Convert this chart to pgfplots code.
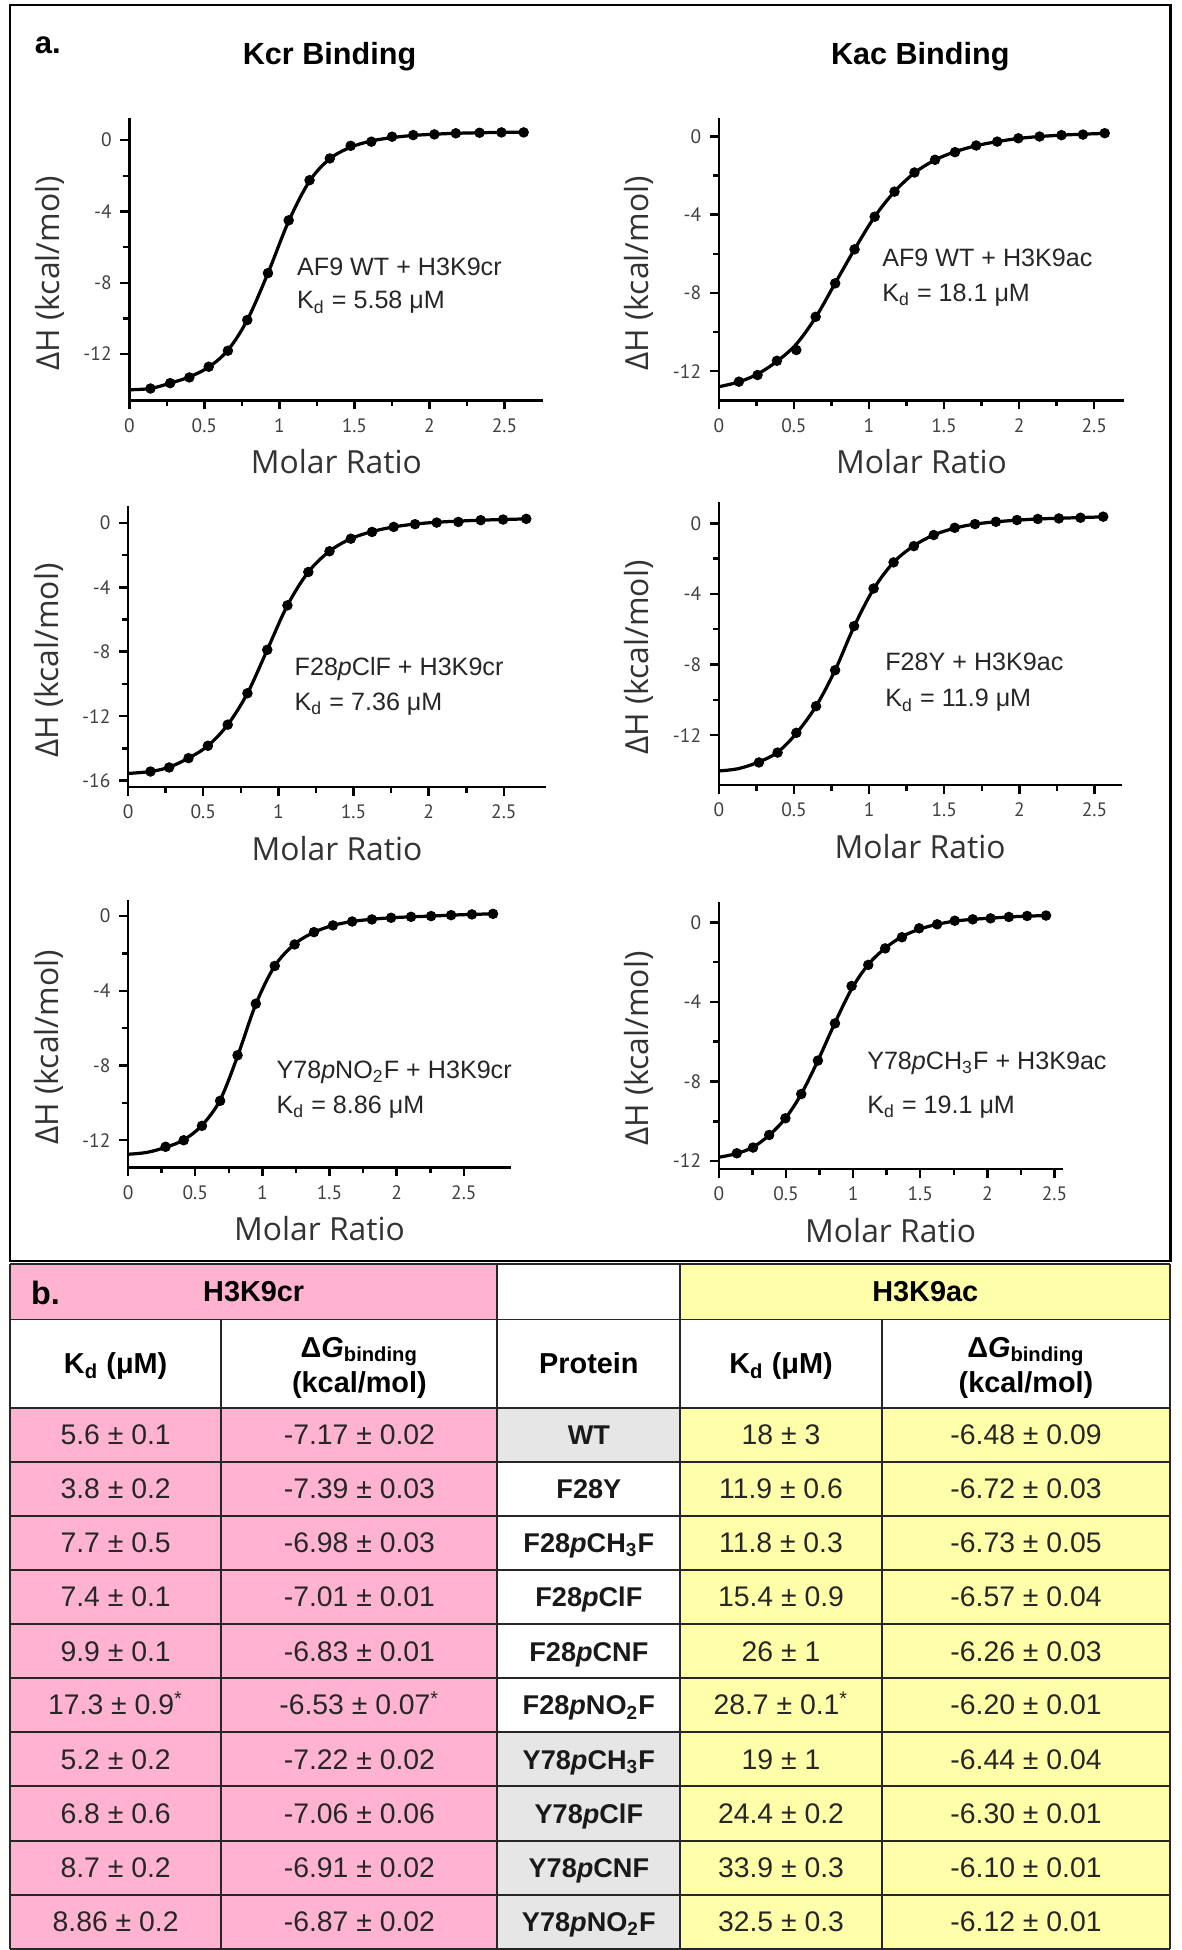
\documentclass[border=0pt]{standalone}
\usepackage{fontspec}
\setmainfont{Liberation Sans}
\newfontfamily\labfont{Open Sans}
\newfontfamily\tickfont{PT Sans}
\usepackage{pgfplots}
\pgfplotsset{compat=1.18}
\definecolor{pinkc}{HTML}{FFB3D1}
\definecolor{yellowc}{HTML}{FFFFAA}
\definecolor{grayc}{HTML}{E6E6E6}

\pgfplotsset{itc/.style={
  scale only axis, axis lines=left,
  axis line style={-, line width=1pt, black},
  tick align=outside, major tick length=3.6pt, minor tick length=2.4pt,
  every tick/.style={black, line width=1pt},
  xmin=0, xtick={0,0.5,1,1.5,2,2.5}, minor x tick num=1,
  minor y tick num=1,
  /pgf/number format/assume math mode=true,
  ticklabel style={font=\tickfont\fontsize{7.8}{8.5}\selectfont, text=black!75},
  xlabel={Molar Ratio}, ylabel={ΔH (kcal/mol)},
  label style={font=\labfont\fontsize{12.8}{14}\selectfont, text=black!80},
  xlabel style={at={([yshift=-29.5pt]axis description cs:0.5,0)}, anchor=base},
  ylabel style={at={([xshift=-32pt]axis description cs:0,0.45)}, anchor=center},
  clip=false,
}}
\pgfplotsset{fitline/.style={black, line width=1.3pt, smooth, tension=0.55, mark=none},
  pts/.style={only marks, mark=*, mark size=1.9pt, mark options={fill=black, draw=black}}}
\newcommand{\af}{\fontsize{10.1}{12}\selectfont}

\pgfplotstableread{
x y
0.141 -13.93
0.272 -13.63
0.400 -13.31
0.529 -12.71
0.657 -11.81
0.786 -10.09
0.924 -7.46
1.062 -4.50
1.201 -2.25
1.336 -1.03
1.475 -0.32
1.613 -0.09
1.751 0.19
1.892 0.28
2.033 0.32
2.176 0.38
2.334 0.41
2.480 0.43
2.628 0.43
}\pA
\pgfplotstableread{
x y
0 -14.00
0.141 -13.93
0.272 -13.63
0.400 -13.28
0.529 -12.73
0.657 -11.78
0.786 -10.09
0.924 -7.46
1.062 -4.55
1.201 -2.30
1.336 -1.05
1.475 -0.40
1.613 -0.05
1.751 0.14
1.892 0.26
2.033 0.33
2.176 0.38
2.334 0.41
2.480 0.43
2.628 0.44
}\fA
\pgfplotstableread{
x y
0.134 -12.54
0.258 -12.20
0.387 -11.47
0.516 -10.92
0.645 -9.22
0.775 -7.51
0.904 -5.77
1.038 -4.10
1.170 -2.82
1.303 -1.84
1.440 -1.19
1.573 -0.80
1.714 -0.46
1.854 -0.26
1.995 -0.09
2.136 0.00
2.282 0.07
2.425 0.10
2.570 0.17
}\pB
\pgfplotstableread{
x y
0 -12.80
0.134 -12.55
0.258 -12.15
0.387 -11.50
0.516 -10.62
0.645 -9.25
0.775 -7.50
0.904 -5.77
1.038 -4.10
1.170 -2.82
1.303 -1.86
1.440 -1.20
1.573 -0.78
1.714 -0.47
1.854 -0.26
1.995 -0.10
2.136 0.00
2.282 0.07
2.425 0.12
2.570 0.16
}\fB
\pgfplotstableread{
x y
0.149 -15.44
0.273 -15.19
0.402 -14.61
0.531 -13.84
0.663 -12.53
0.794 -10.58
0.926 -7.88
1.060 -5.12
1.199 -3.05
1.340 -1.76
1.482 -0.98
1.623 -0.56
1.767 -0.25
1.909 -0.08
2.053 0.02
2.197 0.06
2.346 0.17
2.495 0.21
2.649 0.25
}\pC
\pgfplotstableread{
x y
0 -15.56
0.149 -15.44
0.273 -15.17
0.402 -14.61
0.531 -13.84
0.663 -12.53
0.794 -10.58
0.926 -7.88
1.060 -5.12
1.199 -3.05
1.340 -1.76
1.482 -0.98
1.623 -0.54
1.767 -0.25
1.909 -0.07
2.053 0.04
2.197 0.11
2.346 0.17
2.495 0.21
2.649 0.25
}\fC
\pgfplotstableread{
x y
0.267 -13.55
0.391 -12.99
0.516 -11.87
0.647 -10.36
0.774 -8.32
0.900 -5.82
1.030 -3.69
1.163 -2.21
1.298 -1.29
1.430 -0.66
1.570 -0.25
1.705 -0.04
1.844 0.09
1.984 0.19
2.123 0.25
2.263 0.28
2.407 0.32
2.558 0.38
}\pD
\pgfplotstableread{
x y
0 -14.03
0.130 -13.90
0.267 -13.52
0.391 -12.97
0.516 -11.90
0.647 -10.36
0.774 -8.32
0.900 -5.85
1.030 -3.72
1.163 -2.21
1.298 -1.27
1.430 -0.66
1.570 -0.27
1.705 -0.04
1.844 0.09
1.984 0.18
2.123 0.25
2.263 0.29
2.407 0.33
2.558 0.37
}\fD
\pgfplotstableread{
x y
0.279 -12.35
0.414 -12.00
0.550 -11.23
0.685 -9.89
0.815 -7.45
0.951 -4.69
1.092 -2.67
1.240 -1.52
1.384 -0.86
1.525 -0.50
1.668 -0.29
1.815 -0.18
1.958 -0.09
2.107 -0.04
2.256 0.00
2.405 0.05
2.560 0.09
2.717 0.12
}\pE
\pgfplotstableread{
x y
0 -12.75
0.140 -12.65
0.279 -12.38
0.414 -11.98
0.550 -11.20
0.685 -9.85
0.815 -7.50
0.951 -4.72
1.092 -2.67
1.240 -1.50
1.384 -0.87
1.525 -0.50
1.668 -0.29
1.815 -0.17
1.958 -0.09
2.107 -0.04
2.256 0.00
2.405 0.05
2.560 0.09
2.717 0.12
}\fE
\pgfplotstableread{
x y
0.134 -11.61
0.255 -11.32
0.375 -10.69
0.496 -9.85
0.614 -8.63
0.738 -6.95
0.865 -5.08
0.989 -3.20
1.113 -2.14
1.239 -1.31
1.364 -0.75
1.492 -0.30
1.626 -0.10
1.757 0.08
1.891 0.15
2.024 0.20
2.160 0.27
2.296 0.32
2.437 0.34
}\pF
\pgfplotstableread{
x y
0 -11.81
0.134 -11.62
0.255 -11.30
0.375 -10.70
0.496 -9.85
0.614 -8.63
0.738 -6.95
0.865 -5.05
0.989 -3.35
1.113 -2.12
1.239 -1.30
1.364 -0.72
1.492 -0.35
1.626 -0.10
1.757 0.06
1.891 0.15
2.024 0.21
2.160 0.27
2.296 0.31
2.437 0.34
}\fF

\newcommand{\tb}{\fontsize{11.4}{13}\selectfont}
\newcommand{\tp}{\fontsize{10.9}{13}\selectfont\bfseries}
\newcommand{\thd}{\fontsize{11.6}{13}\selectfont\bfseries}
\newcommand{\trow}[6]{%
  \node[anchor=base, font=\tb, text=black!85] at (46.5pt,-#1pt) {#2};
  \node[anchor=base, font=\tb, text=black!85] at (144.5pt,-#1pt) {#3};
  \node[anchor=base, font=\tp, text=black!90] at (236.75pt,-#1pt) {#4};
  \node[anchor=base, font=\tb, text=black!85] at (314pt,-#1pt) {#5};
  \node[anchor=base, font=\tb, text=black!85] at (412.5pt,-#1pt) {#6};}

\begin{document}
\begin{tikzpicture}
\useasboundingbox (0,0) rectangle (475pt,-784pt);
% panel a frame
\draw[line width=1pt] (4pt,-2pt) rectangle (470.5pt,-507pt);
\node[anchor=base west, font=\fontsize{12.5}{14}\selectfont\bfseries] at (10.5pt,-21.5pt) {a.};
\node[anchor=base, font=\fontsize{12.3}{14}\selectfont\bfseries] at (132.5pt,-26pt) {Kcr Binding};
\node[anchor=base, font=\fontsize{12.3}{14}\selectfont\bfseries] at (370pt,-26pt) {Kac Binding};

% plot 1
\begin{axis}[itc, at={(52pt,-161pt)}, anchor=south west, width=166.5pt, height=113.5pt,
  xmax=2.76, ymin=-14.6, ymax=1.23, ytick={-12,-8,-4,0}]
\addplot[fitline] table {\fA};
\addplot[pts] table {\pA};
\node[anchor=base west, font=\af, text=black!85] at (axis cs:1.06,-7.58) {AF9 WT + H3K9cr};
\node[anchor=base west, font=\af, text=black!85] at (axis cs:1.06,-9.47) {K\textsubscript{d} = 5.58 μM};
\end{axis}

% plot 2
\begin{axis}[itc, at={(289pt,-161pt)}, anchor=south west, width=163pt, height=113.5pt,
  xmax=2.70, ymin=-13.5, ymax=0.94, ytick={-12,-8,-4,0}]
\addplot[fitline] table {\fB};
\addplot[pts] table {\pB};
\node[anchor=base west, font=\af, text=black!85] at (axis cs:1.03,-6.66) {AF9 WT + H3K9ac};
\node[anchor=base west, font=\af, text=black!85] at (axis cs:1.03,-8.45) {K\textsubscript{d} = 18.1 μM};
\end{axis}

% plot 3
\begin{axis}[itc, at={(51.5pt,-316.4pt)}, anchor=south west, width=168pt, height=112.9pt,
  xmax=2.78, ymin=-16.4, ymax=1.04, ytick={-16,-12,-8,-4,0}]
\addplot[fitline] table {\fC};
\addplot[pts] table {\pC};
\node[anchor=base west, font=\af, text=black!85] at (axis cs:1.05,-9.48) {F28\textit{p}ClF + H3K9cr};
\node[anchor=base west, font=\af, text=black!85] at (axis cs:1.05,-11.66) {K\textsubscript{d} = 7.36 μM};
\end{axis}

% plot 4
\begin{axis}[itc, at={(289pt,-315.7pt)}, anchor=south west, width=161.9pt, height=114pt,
  xmax=2.68, ymin=-14.84, ymax=1.23, ytick={-12,-8,-4,0}]
\addplot[fitline] table {\fD};
\addplot[pts] table {\pD};
\node[anchor=base west, font=\af, text=black!85] at (axis cs:1.05,-8.32) {F28Y + H3K9ac};
\node[anchor=base west, font=\af, text=black!85] at (axis cs:1.05,-10.40) {K\textsubscript{d} = 11.9 μM};
\end{axis}

% plot 5
\begin{axis}[itc, at={(51.5pt,-469.4pt)}, anchor=south west, width=153.9pt, height=107.4pt,
  xmax=2.85, ymin=-13.46, ymax=0.84, ytick={-12,-8,-4,0}]
\addplot[fitline] table {\fE};
\addplot[pts] table {\pE};
\node[anchor=base west, font=\af, text=black!85] at (axis cs:1.04,-8.70) {Y78\textit{p}NO\textsubscript{2}F + H3K9cr};
\node[anchor=base west, font=\af, text=black!85] at (axis cs:1.04,-10.57) {K\textsubscript{d} = 8.86 μM};
\end{axis}

% plot 6
\begin{axis}[itc, at={(289pt,-470pt)}, anchor=south west, width=138.2pt, height=107.5pt,
  xmax=2.56, ymin=-12.4, ymax=1.04, ytick={-12,-8,-4,0}]
\addplot[fitline] table {\fF};
\addplot[pts] table {\pF};
\node[anchor=base west, font=\af, text=black!85] at (axis cs:1.04,-7.42) {Y78\textit{p}CH\textsubscript{3}F + H3K9ac};
\node[anchor=base west, font=\af, text=black!85] at (axis cs:1.04,-9.60) {K\textsubscript{d} = 19.1 μM};
\end{axis}

% ---------- table b ----------
\fill[pinkc] (4pt,-508pt) rectangle (200pt,-530.5pt);
\fill[pinkc] (4pt,-566pt) rectangle (200pt,-783.5pt);
\fill[yellowc] (273.5pt,-508pt) rectangle (470.5pt,-530.5pt);
\fill[yellowc] (273.5pt,-566pt) rectangle (470.5pt,-783.5pt);
\fill[grayc] (200pt,-566pt) rectangle (273.5pt,-587.75pt);
\fill[grayc] (200pt,-696.5pt) rectangle (273.5pt,-783.5pt);
\begin{scope}[line width=0.8pt, black!85]
\foreach \yy in {508,530.5,566,587.75,609.5,631.25,653,674.75,696.5,718.25,740,761.75,783.5}
  \draw (4pt,-\yy pt) -- (470.5pt,-\yy pt);
\foreach \xx in {4,200,273.5,470.5}
  \draw (\xx pt,-508pt) -- (\xx pt,-783.5pt);
\foreach \xx in {89,354.5}
  \draw (\xx pt,-530.5pt) -- (\xx pt,-783.5pt);
\end{scope}
\node[anchor=base west, font=\fontsize{13}{14}\selectfont\bfseries] at (9pt,-524.5pt) {b.};
\node[anchor=base, font=\thd] at (102pt,-523.4pt) {H3K9cr};
\node[anchor=base, font=\thd] at (372pt,-523.4pt) {H3K9ac};
% header row 2
\node[anchor=base, font=\thd] at (46.5pt,-552.4pt) {K\textsubscript{d} (μM)};
\node[anchor=base, font=\thd] at (144.5pt,-545.7pt) {Δ\textit{G}\textsubscript{binding}};
\node[anchor=base, font=\thd] at (144.5pt,-560pt) {(kcal/mol)};
\node[anchor=base, font=\thd] at (236.75pt,-552.4pt) {Protein};
\node[anchor=base, font=\thd] at (314pt,-552.4pt) {K\textsubscript{d} (μM)};
\node[anchor=base, font=\thd] at (412.5pt,-545.7pt) {Δ\textit{G}\textsubscript{binding}};
\node[anchor=base, font=\thd] at (412.5pt,-560pt) {(kcal/mol)};
% data rows
\trow{580.8}{5.6 ± 0.1}{-7.17 ± 0.02}{WT}{18 ± 3}{-6.48 ± 0.09}
\trow{602.5}{3.8 ± 0.2}{-7.39 ± 0.03}{F28Y}{11.9 ± 0.6}{-6.72 ± 0.03}
\trow{624.3}{7.7 ± 0.5}{-6.98 ± 0.03}{F28\textit{p}CH\textsubscript{3}F}{11.8 ± 0.3}{-6.73 ± 0.05}
\trow{646.0}{7.4 ± 0.1}{-7.01 ± 0.01}{F28\textit{p}ClF}{15.4 ± 0.9}{-6.57 ± 0.04}
\trow{667.8}{9.9 ± 0.1}{-6.83 ± 0.01}{F28\textit{p}CNF}{26 ± 1}{-6.26 ± 0.03}
\trow{689.5}{17.3 ± 0.9\textsuperscript{*}}{-6.53 ± 0.07\textsuperscript{*}}{F28\textit{p}NO\textsubscript{2}F}{28.7 ± 0.1\textsuperscript{*}}{-6.20 ± 0.01}
\trow{711.3}{5.2 ± 0.2}{-7.22 ± 0.02}{Y78\textit{p}CH\textsubscript{3}F}{19 ± 1}{-6.44 ± 0.04}
\trow{733.0}{6.8 ± 0.6}{-7.06 ± 0.06}{Y78\textit{p}ClF}{24.4 ± 0.2}{-6.30 ± 0.01}
\trow{754.8}{8.7 ± 0.2}{-6.91 ± 0.02}{Y78\textit{p}CNF}{33.9 ± 0.3}{-6.10 ± 0.01}
\trow{776.5}{8.86 ± 0.2}{-6.87 ± 0.02}{Y78\textit{p}NO\textsubscript{2}F}{32.5 ± 0.3}{-6.12 ± 0.01}
\end{tikzpicture}
\end{document}
